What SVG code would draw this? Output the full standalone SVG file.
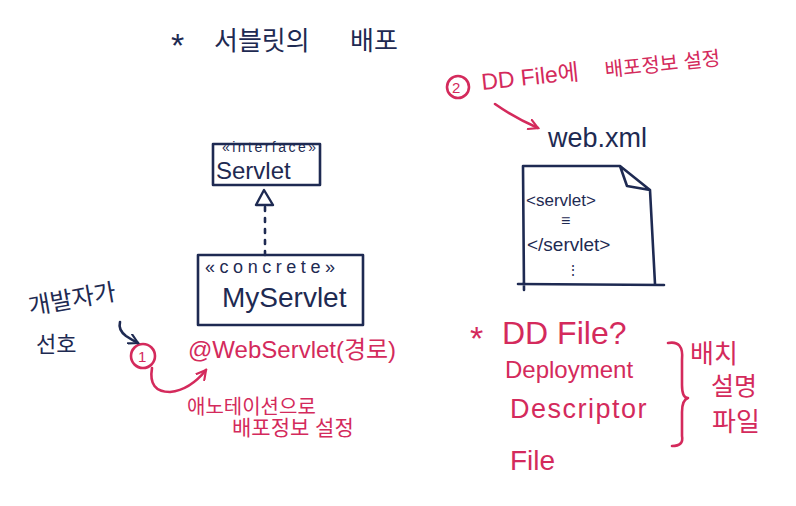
<svg xmlns="http://www.w3.org/2000/svg" width="796" height="506" viewBox="0 0 796 506">
<style>
.n{fill:#1e2a52;font-family:"Liberation Sans","Noto Sans CJK KR",sans-serif}
.p{fill:#d42a5c;font-family:"Liberation Sans","Noto Sans CJK KR",sans-serif}
.ln{fill:none;stroke:#1e2a52;stroke-width:2.6;stroke-linecap:round;stroke-linejoin:round}
.lp{fill:none;stroke:#d42a5c;stroke-width:2.6;stroke-linecap:round;stroke-linejoin:round}
</style>
<defs>
<marker id="ap" viewBox="0 0 12 12" refX="10" refY="6" markerWidth="12" markerHeight="12" markerUnits="userSpaceOnUse" orient="auto">
<path d="M1,1 L10,6 L1,11" fill="none" stroke="#d42a5c" stroke-width="2.2" stroke-linecap="round"/>
</marker>
<marker id="an" viewBox="0 0 12 12" refX="10" refY="6" markerWidth="12" markerHeight="12" markerUnits="userSpaceOnUse" orient="auto">
<path d="M1,1 L10,6 L1,11" fill="none" stroke="#1e2a52" stroke-width="2.2" stroke-linecap="round"/>
</marker>
</defs>
<rect width="796" height="506" fill="#ffffff"/>

<g id="title">
<text class="n" x="171" y="57" font-size="34">*</text>
<text class="n" x="214" y="50" font-size="26">서블릿의</text>
<text class="n" x="350" y="50" font-size="26">배포</text>
</g>

<g id="dd-note">
<circle class="lp" cx="458" cy="87" r="11"/>
<text class="p" x="452" y="93" font-size="15">2</text>
<g transform="rotate(-6 482 88)">
<text class="p" x="482" y="90" font-size="23">DD File에</text>
<text class="p" x="606" y="90" font-size="20">배포정보 설정</text>
</g>
</g>

<g id="servlet-interface">
<rect class="ln" x="213" y="144" width="107" height="41"/>
<text class="n" x="222" y="152" font-size="14" textLength="94">«interface»</text>
<text class="n" x="216" y="179" font-size="24">Servlet</text>
</g>

<g id="myservlet">
<rect class="ln" x="198" y="255" width="165" height="70"/>
<text class="n" x="205" y="273" font-size="18" textLength="130">«concrete»</text>
<text class="n" x="222" y="307" font-size="28">MyServlet</text>
</g>

<g id="developer-note">
<text class="n" x="30" y="315" font-size="24" transform="rotate(-10 30 315)">개발자가</text>
<text class="n" x="36" y="352" font-size="22">선호</text>
</g>

<g id="annotation">
<circle class="lp" cx="143" cy="356" r="12"/>
<text class="p" x="138" y="362" font-size="15">1</text>
<text class="p" x="188" y="358" font-size="24">@WebServlet(경로)</text>
<text class="p" x="187" y="414" font-size="20">애노테이션으로</text>
<text class="p" x="232" y="435" font-size="21">배포정보 설정</text>
</g>

<g id="web-xml">
<text class="n" x="548" y="147" font-size="27">web.xml</text>
<path class="ln" d="M523,166 L620,166 L650,190 L655,284 M620,166 L627,186 L650,190 M523,166 L524,290 M518,284 L664,285"/>
<text class="n" x="526" y="206" font-size="17">&lt;servlet&gt;</text>
<text class="n" x="561" y="226" font-size="16">≡</text>
<text class="n" x="527" y="251" font-size="19">&lt;/servlet&gt;</text>
<text class="n" x="566" y="275" font-size="14">⋮</text>
</g>

<g id="dd-definition">
<text class="p" x="470" y="350" font-size="34">*</text>
<text class="p" x="502" y="344" font-size="32">DD File?</text>
<text class="p" x="505" y="378" font-size="24">Deployment</text>
<text class="p" x="510" y="418" font-size="27" letter-spacing="1.5">Descriptor</text>
<text class="p" x="510" y="470" font-size="28">File</text>
<path class="lp" d="M668,343 Q684,340 682,360 L682,385 Q682,398 688,398 Q682,400 682,412 L682,436 Q684,446 672,446"/>
<text class="p" x="690" y="363" font-size="26">배치</text>
<text class="p" x="711" y="395" font-size="25">설명</text>
<text class="p" x="712" y="431" font-size="26">파일</text>
</g>

<g id="connectors">
<path class="lp" d="M495,104 Q515,118 538,128" marker-end="url(#ap)"/>
<polygon points="264,190 256,205 273,205" fill="#ffffff" stroke="#1e2a52" stroke-width="2.4" stroke-linejoin="round"/>
<path class="ln" d="M265,207 L265,255" stroke-dasharray="4 7"/>
<path class="ln" d="M120,322 Q118,330 126,336 Q132,340 138,343" marker-end="url(#an)"/>
<path class="lp" d="M152,368 Q148,392 170,392 Q190,390 206,370" marker-end="url(#ap)"/>
</g>
</svg>
